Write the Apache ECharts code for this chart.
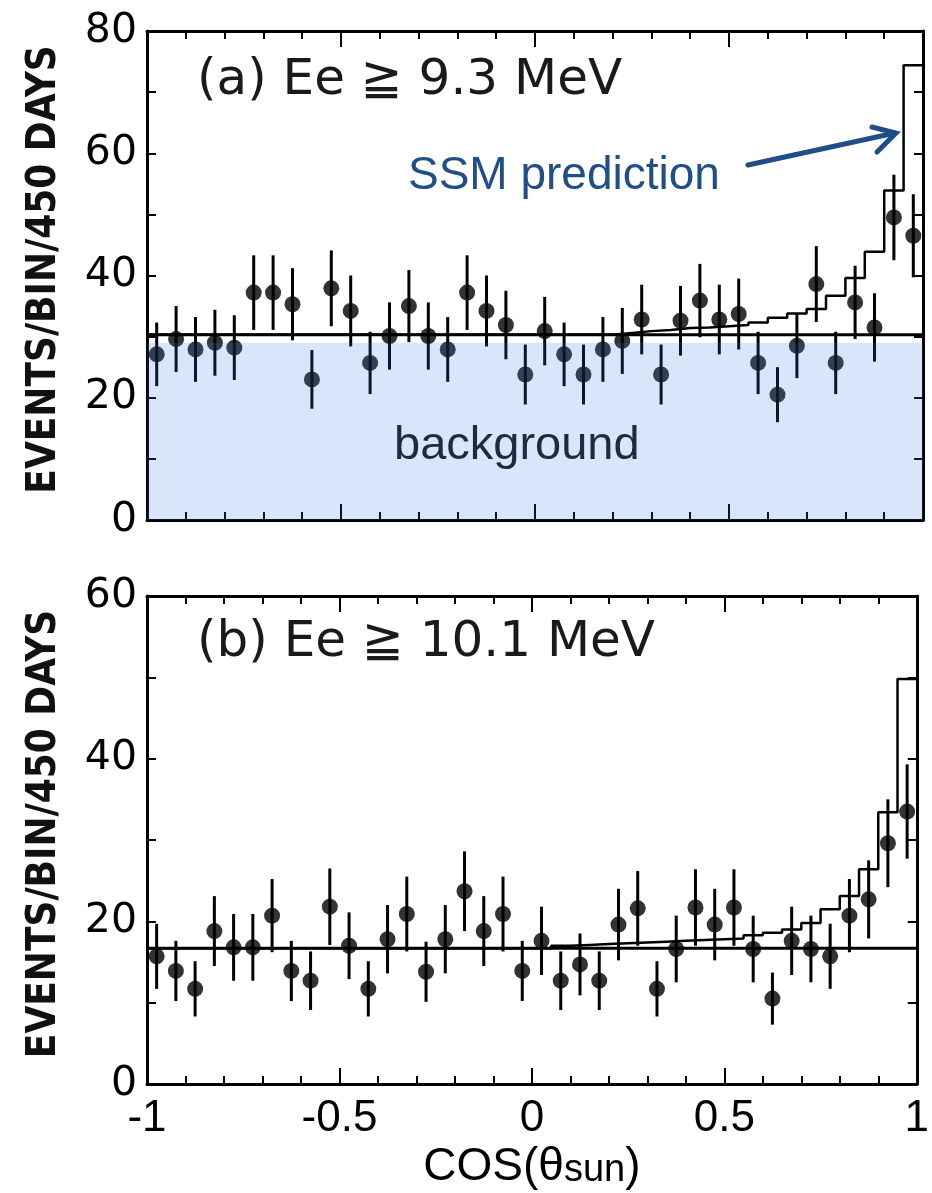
<!DOCTYPE html>
<html><head><meta charset="utf-8">
<script src="https://cdn.jsdelivr.net/npm/echarts@6.0.0/dist/echarts.min.js"></script>
<style>html,body{margin:0;padding:0;background:#fff}#c{width:932px;height:1193px}</style>
</head><body><div id="c"></div>
<script>
// ---------- data ----------
const binWidth = 0.05;
const nBins = 40;
const binCenters = Array.from({length: nBins}, (_, i) => +(-1 + binWidth * (i + 0.5)).toFixed(3));
const binEdges = Array.from({length: nBins + 1}, (_, i) => +(-1 + binWidth * i).toFixed(3));
const xTickLabels = ['-1', '-0.5', '0', '0.5', '1'];

// panel (a) Ee >= 9.3 MeV
const eventsA = [27.1, 29.6, 27.9, 29.0, 28.2, 37.2, 37.2, 35.3, 23.0, 37.9,
                 34.2, 25.7, 30.1, 35.0, 30.1, 27.9, 37.2, 34.2, 31.9, 23.8,
                 30.9, 27.1, 23.8, 27.9, 29.3, 32.8, 23.8, 32.6, 35.9, 32.8,
                 33.7, 25.7, 20.5, 28.5, 38.6, 25.7, 35.6, 31.5, 49.5, 46.5];
const errorsA = [5.2, 5.4, 5.3, 5.4, 5.3, 6.1, 6.1, 5.9, 4.8, 6.2,
                 5.8, 5.1, 5.5, 5.9, 5.5, 5.3, 6.1, 5.8, 5.6, 4.9,
                 5.6, 5.2, 4.9, 5.3, 5.4, 5.7, 4.9, 5.7, 6.0, 5.7,
                 5.8, 5.1, 4.5, 5.3, 6.2, 5.1, 6.0, 5.6, 7.0, 6.8];
const ssmA = [30.3, 30.3, 30.3, 30.3, 30.3, 30.3, 30.3, 30.3, 30.3, 30.3,
              30.3, 30.3, 30.3, 30.3, 30.3, 30.3, 30.3, 30.3, 30.3, 30.3,
              30.3, 30.3, 30.3, 30.3, 30.6, 30.9, 31.1, 31.4, 31.5, 31.7,
              31.9, 32.3, 33.1, 33.8, 34.5, 36.7, 39.6, 43.9, 53.9, 74.4];
const flatA = 30.3;
const backgroundA = 29.0;
const yTicksA = [0, 20, 40, 60, 80];

// panel (b) Ee >= 10.1 MeV
const eventsB = [15.7, 13.9, 11.7, 18.8, 16.8, 16.8, 20.7, 13.9, 12.7, 21.8,
                 17.0, 11.7, 17.8, 20.9, 13.8, 17.8, 23.7, 18.8, 20.9, 13.9,
                 17.6, 12.7, 14.7, 12.7, 19.6, 21.6, 11.7, 16.6, 21.7, 19.6,
                 21.7, 16.6, 10.5, 17.6, 16.6, 15.7, 20.7, 22.7, 29.6, 33.5];
const errorsB = [4.0, 3.7, 3.4, 4.3, 4.1, 4.1, 4.5, 3.7, 3.6, 4.7,
                 4.1, 3.4, 4.2, 4.6, 3.7, 4.2, 4.9, 4.3, 4.6, 3.7,
                 4.2, 3.6, 3.8, 3.6, 4.4, 4.6, 3.4, 4.1, 4.7, 4.4,
                 4.7, 4.1, 3.2, 4.2, 4.1, 4.0, 4.5, 4.8, 5.4, 5.8];
const ssmB = [16.7, 16.7, 16.7, 16.7, 16.7, 16.7, 16.7, 16.7, 16.7, 16.7,
              16.7, 16.7, 16.7, 16.7, 16.7, 16.7, 16.7, 16.7, 16.7, 16.7,
              16.7, 17.0, 17.1, 17.2, 17.3, 17.4, 17.5, 17.6, 17.7, 17.8,
              17.9, 18.3, 18.6, 19.0, 19.8, 21.5, 23.1, 26.4, 33.4, 49.8];
const flatB = 16.7;
const yTicksB = [0, 20, 40, 60];

// ---------- styles ----------
const BLACK = '#000';
const BLUE = '#1f4e88';
const grids = [
  {left: 147, right: 9, top: 31, height: 489},
  {left: 147, right: 9, top: 596, height: 488}
];

function xAxisPair(gi, showLabels) {
  const common = {
    type: 'value', gridIndex: gi, min: -1, max: 1, interval: 0.5,
    axisLine: {show: true, onZero: false, lineStyle: {color: BLACK, width: 3}},
    axisTick: {show: true, inside: true, length: 16, lineStyle: {color: BLACK, width: 2}},
    minorTick: {show: true, splitNumber: 5, length: 8, lineStyle: {color: BLACK, width: 2}},
    splitLine: {show: false}, minorSplitLine: {show: false}
  };
  const bottom = Object.assign({}, common, {
    position: 'bottom',
    axisLabel: {
      show: showLabels, color: BLACK, fontFamily: 'Liberation Sans', fontSize: 44, margin: 13,
      formatter: v => xTickLabels[Math.round((v + 1) / 0.5)]
    }
  });
  if (showLabels) {
    Object.assign(bottom, {
      name: '{a|COS(θ}{b|sun}{a|)}', nameLocation: 'middle', nameGap: 60, nameMoveOverlap: false,
      nameTextStyle: {rich: {
        a: {fontFamily: 'Liberation Sans', fontSize: 46, color: BLACK},
        b: {fontFamily: 'Liberation Sans', fontSize: 38, color: BLACK, padding: [8, 0, 0, 0]}
      }}
    });
  }
  const top = Object.assign({}, common, {position: 'top', axisLabel: {show: false}});
  return [bottom, top];
}

function yAxisPair(gi, ticks) {
  const max = ticks[ticks.length - 1];
  const common = {
    type: 'value', gridIndex: gi, min: 0, max: max, interval: ticks[1] - ticks[0],
    axisLine: {show: true, onZero: false, lineStyle: {color: BLACK, width: 3}},
    axisTick: {show: true, inside: true, length: 9, lineStyle: {color: BLACK, width: 2}},
    minorTick: {show: true, splitNumber: 2, length: 9, lineStyle: {color: BLACK, width: 2}},
    splitLine: {show: false}, minorSplitLine: {show: false}
  };
  const left = Object.assign({}, common, {
    position: 'left',
    axisLabel: {show: true, color: BLACK, fontFamily: 'DejaVu Sans', fontSize: 41, margin: 10},
    name: 'EVENTS/BIN/450 DAYS', nameLocation: 'middle', nameRotate: 90, nameGap: 82,
    nameMoveOverlap: false,
    nameTextStyle: {fontFamily: 'DejaVu Sans Condensed', fontWeight: 'bold', fontSize: 40, color: '#111',
                    padding: [0, 0, 0, 12]}
  });
  const right = Object.assign({}, common, {position: 'right', axisLabel: {show: false}});
  return [left, right];
}

function panelSeries(gi, events, errors, ssm, flat, bg) {
  const xi = gi * 2, yi = gi * 2;
  const out = [];
  // error bars
  out.push({
    type: 'custom', xAxisIndex: xi, yAxisIndex: yi, z: 3, silent: true,
    data: binCenters.map((c, i) => [c, events[i], errors[i]]),
    renderItem: (params, api) => {
      const x = api.value(0), v = api.value(1), e = api.value(2);
      const p1 = api.coord([x, v + e]);
      const p2 = api.coord([x, v - e]);
      return {type: 'line', shape: {x1: p1[0], y1: p1[1], x2: p2[0], y2: p2[1]},
              style: {stroke: BLACK, lineWidth: 3}};
    }
  });
  // data points
  out.push({
    type: 'scatter', xAxisIndex: xi, yAxisIndex: yi, z: 4, silent: true,
    symbol: 'circle', symbolSize: 16, itemStyle: {color: BLACK},
    data: binCenters.map((c, i) => [c, events[i]])
  });
  // flat (background) fit line
  out.push({
    type: 'line', xAxisIndex: xi, yAxisIndex: yi, z: 5, silent: true, symbol: 'none',
    lineStyle: {color: BLACK, width: 3},
    data: [[binEdges[0], flat], [binEdges[nBins], flat]]
  });
  // SSM prediction histogram
  const hist = binEdges.slice(0, nBins).map((e, i) => [e, ssm[i]]);
  hist.push([binEdges[nBins], ssm[nBins - 1]]);
  out.push({
    type: 'line', xAxisIndex: xi, yAxisIndex: yi, z: 5, silent: true, symbol: 'none',
    step: 'end', lineStyle: {color: BLACK, width: 2.5},
    data: hist
  });
  if (bg != null) {
    out.push({
      type: 'line', xAxisIndex: xi, yAxisIndex: yi, z: 10, silent: true, symbol: 'none',
      lineStyle: {width: 0, opacity: 0},
      areaStyle: {color: 'rgba(55,115,225,0.27)', origin: 'start'},
      data: [[binEdges[0], bg], [binEdges[nBins], bg]]
    });
  }
  return out;
}

const xa = xAxisPair(0, false), xb = xAxisPair(1, true);
const ya = yAxisPair(0, yTicksA), yb = yAxisPair(1, yTicksB);

const option = {
  animation: false,
  backgroundColor: '#fff',
  grid: grids,
  xAxis: [xa[0], xa[1], xb[0], xb[1]],
  yAxis: [ya[0], ya[1], yb[0], yb[1]],
  series: [].concat(
    panelSeries(0, eventsA, errorsA, ssmA, flatA, backgroundA),
    panelSeries(1, eventsB, errorsB, ssmB, flatB, null)
  ),
  graphic: [
    {type: 'text', z: 20, style: {text: '(a) Ee ≧ 9.3 MeV', x: 197, y: 81, verticalAlign: 'middle', align: 'left',
      font: '50px "DejaVu Sans"', fill: '#1a1a1a'}},
    {type: 'text', z: 20, style: {text: '(b) Ee ≧ 10.1 MeV', x: 197, y: 643, verticalAlign: 'middle', align: 'left',
      font: '50px "DejaVu Sans"', fill: '#1a1a1a'}},
    {type: 'text', z: 20, style: {text: 'SSM prediction', x: 408, y: 176, verticalAlign: 'middle', align: 'left',
      font: '46px "Liberation Sans"', fill: BLUE}},
    {type: 'text', z: 20, style: {text: 'background', x: 394, y: 446, verticalAlign: 'middle', align: 'left',
      font: '47px "Liberation Sans"', fill: '#1b2a45'}},
    {type: 'line', z: 20, shape: {x1: 748, y1: 165, x2: 895, y2: 133},
      style: {stroke: BLUE, lineWidth: 5, lineCap: 'round'}},
    {type: 'polyline', z: 20, shape: {points: [[872, 127], [896, 133], [877, 152]]},
      style: {stroke: BLUE, lineWidth: 5, lineCap: 'round', lineJoin: 'miter', fill: null}}
  ]
};

const chart = echarts.init(document.getElementById('c'), null, {renderer: 'canvas'});
chart.setOption(option);
</script>
</body></html>
